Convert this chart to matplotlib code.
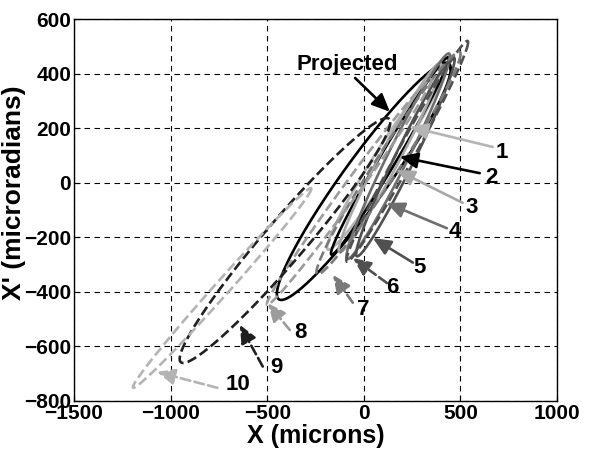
import numpy as np
import matplotlib
matplotlib.use("Agg")
import matplotlib.pyplot as plt

plt.rcParams['font.family'] = ['Liberation Sans', 'DejaVu Sans']
plt.rcParams['font.weight'] = 'bold'

# ellipse parameters (data units)
names = ["Projected", "1", "2", "3", "4", "5", "6", "7", "8", "9", "10"]
x_center = [0, 115, 135, 135, 178, 215, 225, 128, -76, -408, -733]
y_center = [5, 92, 98, 92, 97, 95, 115, 72, -34, -212, -386]
x_half = [450, 305, 305, 265, 268, 255, 315, 373, 426, 545, 462]
y_half = [435, 338, 362, 347, 377, 365, 405, 408, 414, 449, 366]
phase = [0.32, 0.22, 0.16, 0.22, 0.22, 0.22, 0.16, 0.20, 0.12, 0.26, 0.11]
colors = ["#000000", "#b4b4b4", "#000000", "#a8a8a8", "#6e6e6e", "#505050",
          "#505050", "#7a7a7a", "#9c9c9c", "#202020", "#b4b4b4"]
styles = ["-", "-", "-", "-", "-", "-", "--", "--", "--", "--", "--"]

# arrow tips, tails and label positions (data units)
tip_x = [135, 238, 186, 169, 117, 47, -57, -160, -497, -642, -1071]
tip_y = [260, 205, 95, 47, -74, -203, -276, -338, -442, -521, -694]
tail_x = [-45, 667, 600, 512, 430, 254, 120, -57, -383, -523, -758]
tail_y = [384, 131, 35, -74, -167, -293, -368, -440, -540, -674, -752]
label_x = [-85, 713, 663, 560, 471, 290, 145, -5, -330, -452, -653]
label_y = [432, 110, 20, -90, -180, -310, -385, -465, -550, -677, -740]

fig = plt.figure(figsize=(5.89, 4.54), dpi=100)
ax = fig.add_axes([0.1256, 0.117, 0.8201, 0.841])

t = np.linspace(0, 2 * np.pi, 500)
for i in range(len(names)):
    x = x_center[i] + x_half[i] * np.cos(t)
    y = y_center[i] + y_half[i] * np.cos(t + phase[i])
    ax.plot(x, y, color=colors[i], linestyle=styles[i], linewidth=1.9)

for i in range(len(names)):
    ax.annotate("", xy=(tip_x[i], tip_y[i]), xytext=(tail_x[i], tail_y[i]),
                arrowprops=dict(arrowstyle="-|>,head_length=0.9,head_width=0.4",
                                mutation_scale=12, color=colors[i],
                                linestyle=styles[i], linewidth=1.9,
                                shrinkA=0, shrinkB=0))
    ax.text(label_x[i], label_y[i], names[i], fontsize=16, fontweight='bold',
            ha='center', va='center')

ax.set_xlim(-1500, 1000)
ax.set_ylim(-800, 600)
ax.set_xticks(np.arange(-1500, 1001, 500))
ax.set_yticks(np.arange(-800, 601, 200))
ax.tick_params(direction='in', labelsize=15, length=4, pad=2)
for lab in ax.get_xticklabels() + ax.get_yticklabels():
    lab.set_fontweight('bold')
ax.grid(True, color='black', linestyle=(0, (5, 4)), linewidth=0.8)
ax.set_axisbelow(True)
ax.set_xlabel("X (microns)", fontsize=18, fontweight='bold', labelpad=1)
ax.set_ylabel("X' (microradians)", fontsize=19, fontweight='bold')
ax.yaxis.set_label_coords(-0.1, 0.545)
for s in ax.spines.values():
    s.set_linewidth(1.0)

fig.savefig("out.png", dpi=100)
